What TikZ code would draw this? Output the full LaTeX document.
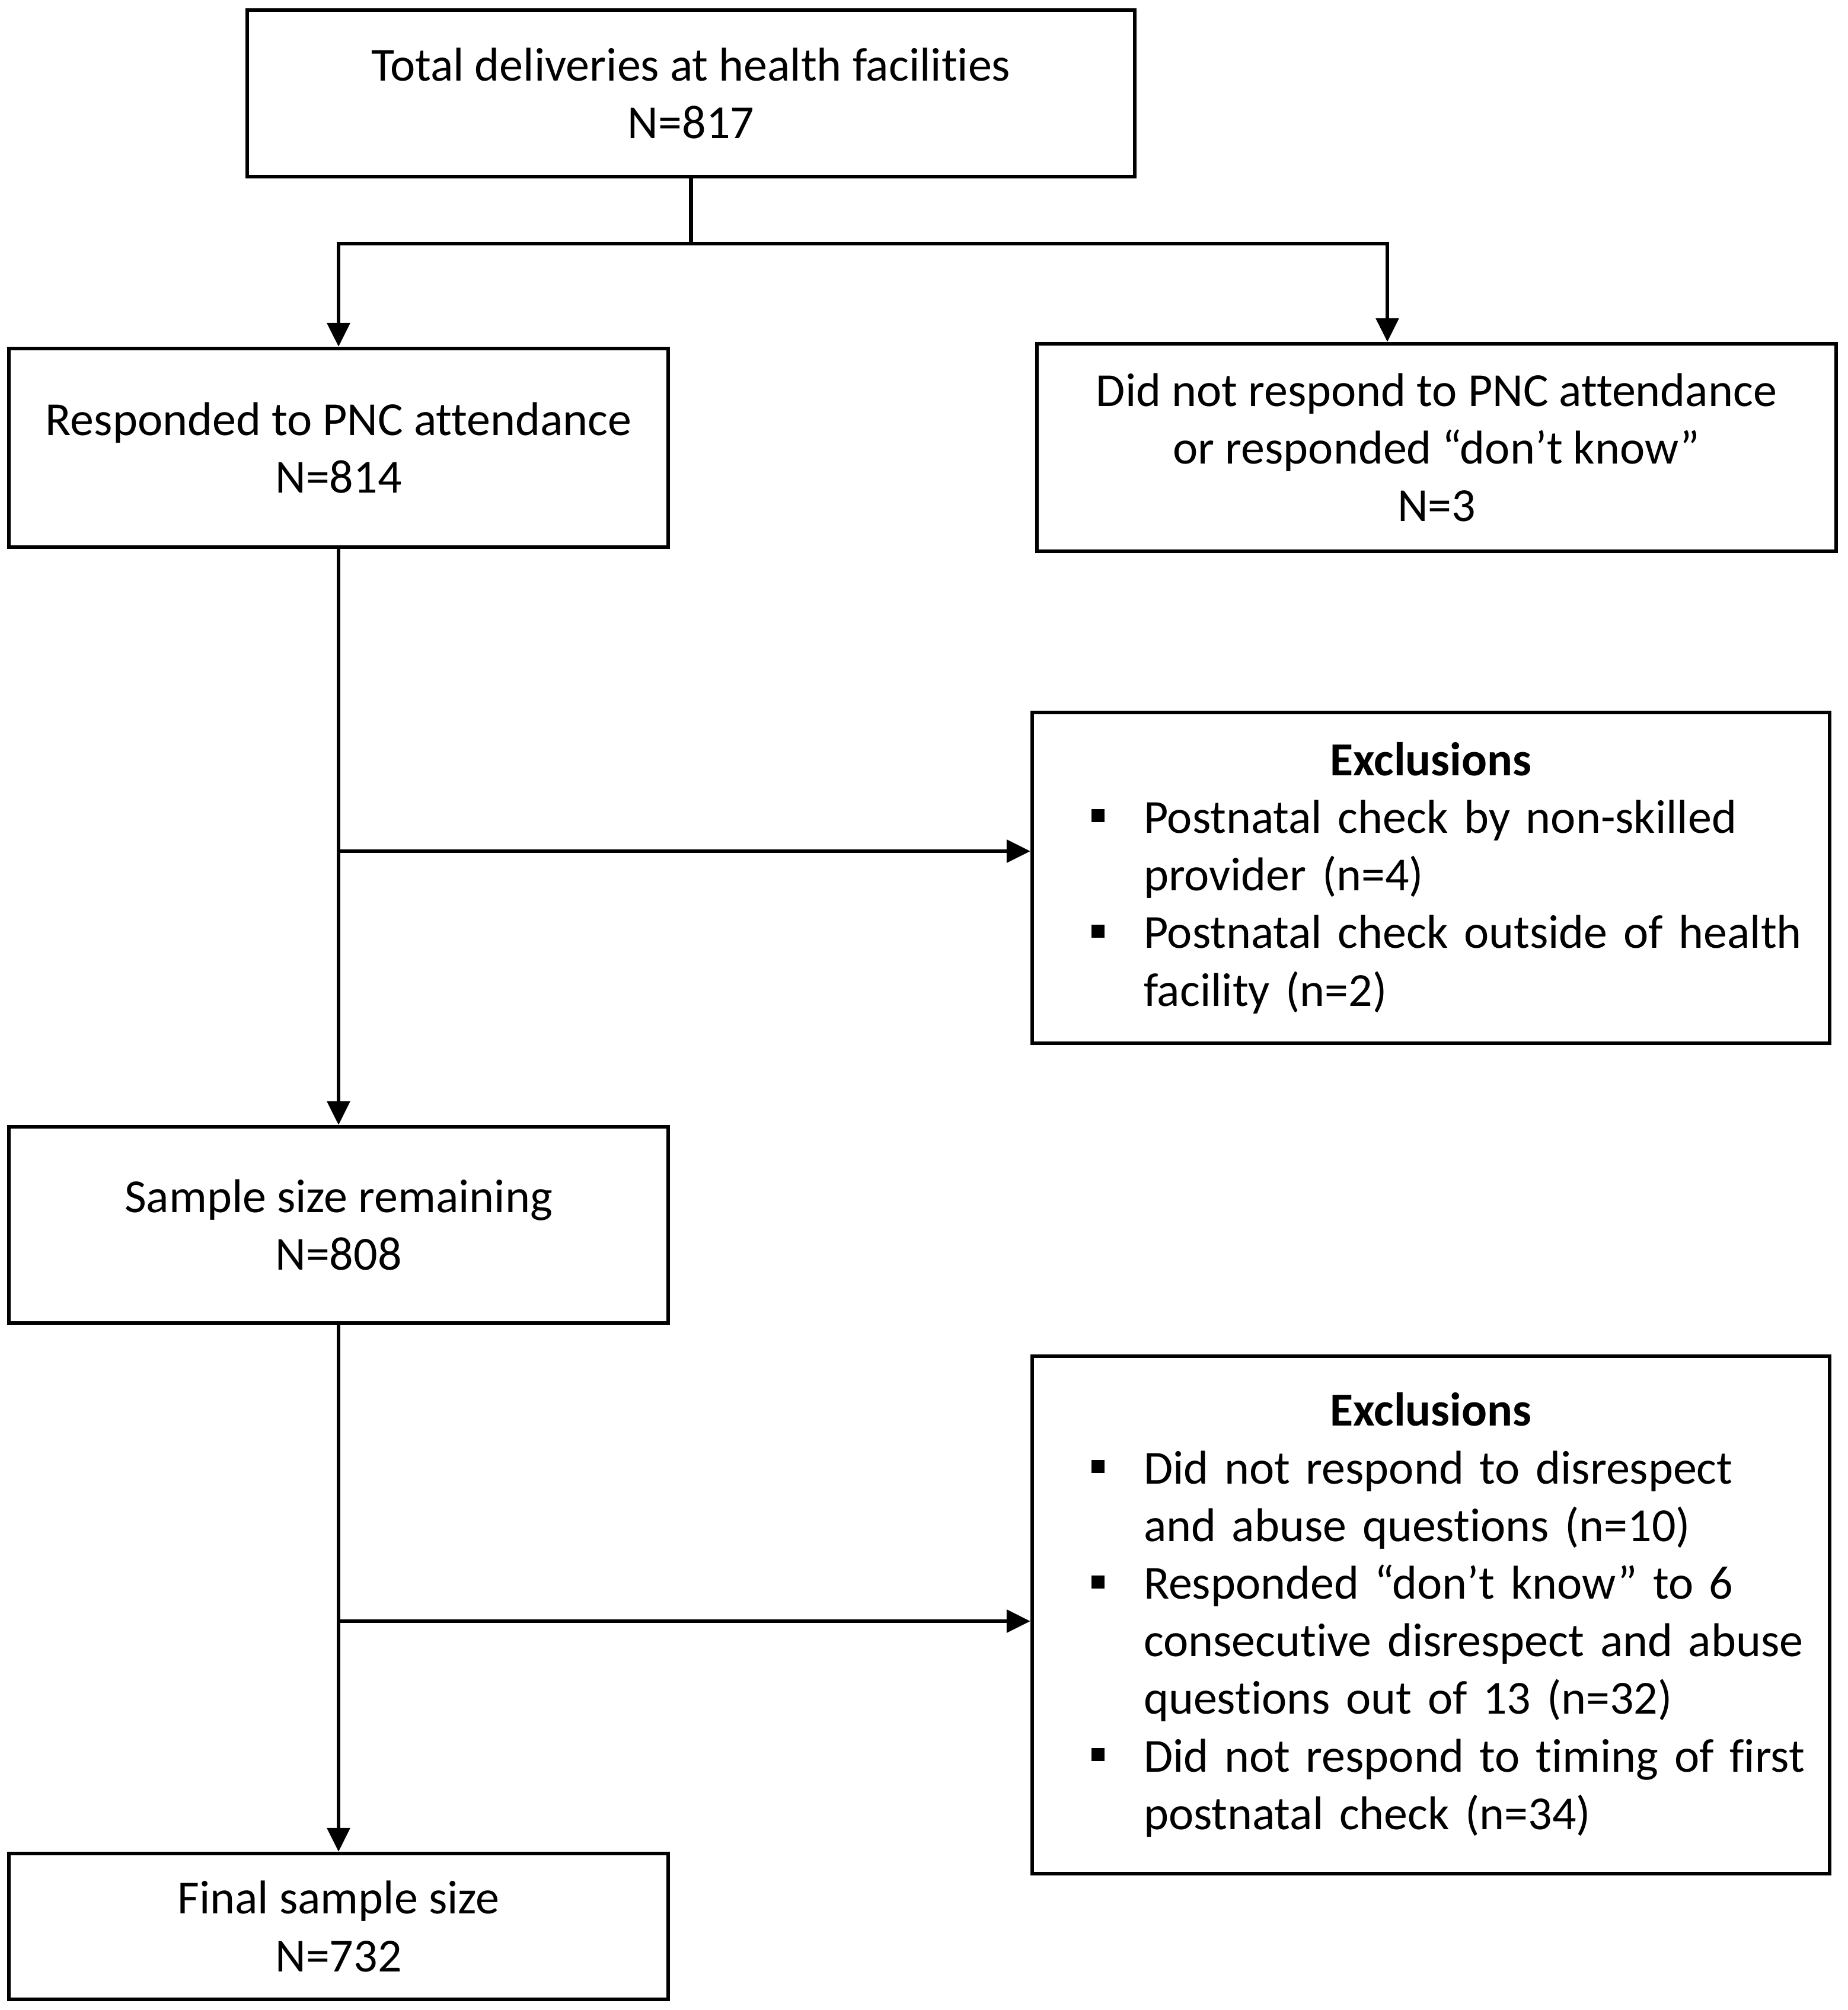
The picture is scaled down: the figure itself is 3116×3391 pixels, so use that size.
\documentclass[tikz,border=0pt]{standalone}
\usepackage{fontspec}
\setmainfont{Carlito}[Ligatures=NoCommon]
\usetikzlibrary{arrows.meta}
\newcommand{\mybullet}{\raisebox{4.5pt}{\rule{5.5pt}{5.5pt}}}
\begin{document}
\begin{tikzpicture}[x=0.25pt,y=-0.25pt,
  box/.style={draw, line width=1.6pt, inner sep=0pt, align=center,
    font=\fontsize{20}{24.3}\selectfont},
  exbox/.style={box, align=left, text width=336.25pt, minimum width=336.25pt},
  conn/.style={line width=1.6pt},
  arr/.style={conn, -{Triangle[length=10pt,width=9.5pt]}}]
\useasboundingbox (0,0) rectangle (3116,3391);

\node[box, minimum width=374.25pt, minimum height=70.25pt] (top) at (1165.5,157.5)
  {Total deliveries at health facilities\\N=817};
\node[box, minimum width=278pt, minimum height=83.75pt] (left1) at (571,755.5)
  {Responded to PNC attendance\\N=814};
\node[box, minimum width=337pt, minimum height=87.5pt] (right1) at (2423,755)
  {Did not respond to PNC attendance\\or responded “don’t know”\\N=3};
\node[exbox, minimum height=139.5pt] (excl1) at (2413.5,1481)
  {\makebox[336.25pt]{\bfseries Exclusions}\\
   \hspace*{25pt}\makebox[22pt][l]{\mybullet}Postnatal check by non-skilled\\
   \hspace*{47pt}provider (n=4)\\
   \hspace*{25pt}\makebox[22pt][l]{\mybullet}Postnatal check outside of health\\
   \hspace*{47pt}facility (n=2)};
\node[box, minimum width=278pt, minimum height=82.75pt] (sample) at (571,2066.5)
  {Sample size remaining\\N=808};
\node[exbox, minimum height=218.25pt] (excl2) at (2413.5,2724.5)
  {\makebox[336.25pt]{\bfseries Exclusions}\\
   \hspace*{25pt}\makebox[22pt][l]{\mybullet}Did not respond to disrespect\\
   \hspace*{47pt}and abuse questions (n=10)\\
   \hspace*{25pt}\makebox[22pt][l]{\mybullet}Responded “don’t know” to 6\\
   \hspace*{47pt}consecutive disrespect and abuse\\
   \hspace*{47pt}questions out of 13 (n=32)\\
   \hspace*{25pt}\makebox[22pt][l]{\mybullet}Did not respond to timing of first\\
   \hspace*{47pt}postnatal check (n=34)};
\node[box, minimum width=278pt, minimum height=61.5pt] (final) at (571,3250)
  {Final sample size\\N=732};

\coordinate (jr) at (2340,411);
\draw[conn] (top.south) -- (top.south |- jr);
\draw[arr] (top.south |- jr) -| (left1.north);
\draw[arr] (top.south |- jr) -| (jr |- right1.north);

\draw[arr] (left1.south) -- (sample.north);
\draw[arr] (left1.south |- 0,1436) -- (excl1.west |- 0,1436);
\draw[arr] (sample.south) -- (final.north);
\draw[arr] (sample.south |- 0,2735) -- (excl2.west |- 0,2735);
\end{tikzpicture}
\end{document}
